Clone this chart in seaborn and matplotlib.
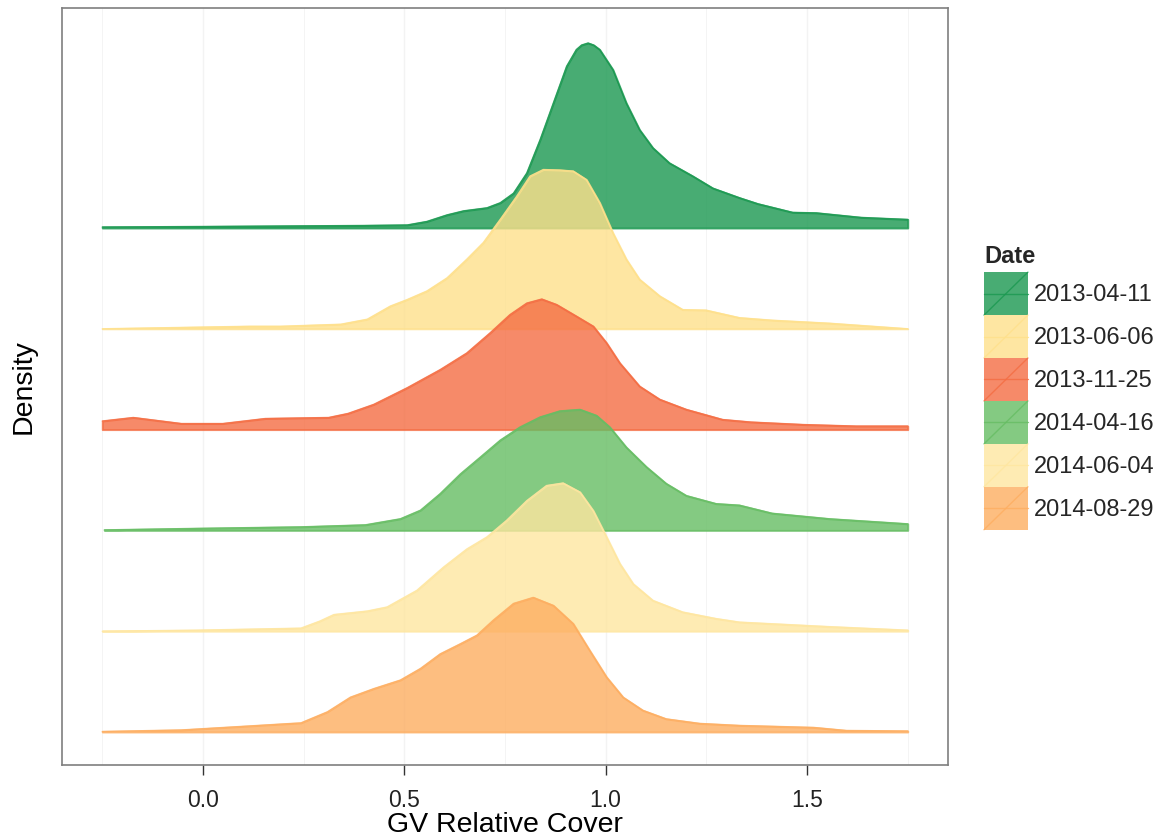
import numpy as np
import pandas as pd
import matplotlib
matplotlib.use("Agg")
import matplotlib.pyplot as plt
import seaborn as sns
from matplotlib.patches import Rectangle, Patch
from matplotlib.lines import Line2D
from matplotlib.legend_handler import HandlerBase

# density curves (x = GV relative cover, d = density)
dates = ['2013-04-11', '2013-06-06', '2013-11-25', '2014-04-16', '2014-06-04', '2014-08-29']
colors = ['#1a9850', '#fee08b', '#f46d43', '#66bd63', '#fee6a0', '#fdae61']
offsets = [10, 8, 6, 4, 2, 0]

x_0411 = [-0.25, 0.0, 0.2, 0.4, 0.507, 0.556, 0.606, 0.647, 0.705, 0.738, 0.771, 0.804, 0.837, 0.87,
          0.903, 0.927, 0.94, 0.956, 0.97, 0.985, 1.018, 1.051, 1.084, 1.117, 1.158, 1.216, 1.266,
          1.332, 1.378, 1.464, 1.523, 1.634, 1.75]
d_0411 = [0.02, 0.03, 0.04, 0.05, 0.06, 0.13, 0.26, 0.34, 0.4, 0.5, 0.69, 1.09, 1.75, 2.48,
          3.21, 3.54, 3.63, 3.67, 3.63, 3.54, 3.14, 2.48, 1.95, 1.59, 1.29, 1.03, 0.79,
          0.6, 0.48, 0.31, 0.3, 0.21, 0.17]

x_0606 = [-0.25, 0.116, 0.193, 0.342, 0.408, 0.465, 0.507, 0.556, 0.606, 0.655, 0.696, 0.738, 0.779,
          0.812, 0.845, 0.886, 0.919, 0.952, 0.985, 1.018, 1.051, 1.084, 1.134, 1.191, 1.249, 1.332,
          1.413, 1.556, 1.75]
d_0606 = [0.0, 0.05, 0.05, 0.09, 0.19, 0.45, 0.58, 0.75, 1.01, 1.38, 1.71, 2.17, 2.63,
          3.03, 3.16, 3.15, 3.13, 2.96, 2.5, 1.9, 1.38, 0.98, 0.65, 0.38, 0.37, 0.22,
          0.17, 0.11, 0.0]

x_1125 = [-0.25, -0.173, -0.054, 0.049, 0.155, 0.312, 0.36, 0.424, 0.507, 0.589, 0.655, 0.713, 0.762,
          0.804, 0.841, 0.878, 0.927, 0.969, 1.002, 1.035, 1.084, 1.134, 1.2, 1.29, 1.36, 1.491,
          1.622, 1.75]
d_1125 = [0.17, 0.24, 0.12, 0.12, 0.22, 0.24, 0.32, 0.5, 0.83, 1.19, 1.52, 1.92, 2.28,
          2.51, 2.59, 2.48, 2.25, 2.05, 1.72, 1.32, 0.86, 0.6, 0.4, 0.2, 0.15, 0.1,
          0.07, 0.07]

x_0416 = [-0.245, -0.015, 0.243, 0.403, 0.49, 0.54, 0.589, 0.639, 0.688, 0.738, 0.787, 0.837, 0.886,
          0.936, 0.977, 1.01, 1.051, 1.101, 1.15, 1.2, 1.274, 1.332, 1.413, 1.556, 1.75]
d_0416 = [0.01, 0.04, 0.07, 0.11, 0.23, 0.4, 0.73, 1.12, 1.45, 1.79, 2.05, 2.25, 2.37,
          2.4, 2.28, 2.05, 1.65, 1.26, 0.93, 0.69, 0.53, 0.5, 0.34, 0.23, 0.13]

x_0604 = [-0.25, -0.015, 0.243, 0.29, 0.325, 0.408, 0.457, 0.531, 0.597, 0.655, 0.705, 0.754, 0.804,
          0.853, 0.894, 0.936, 0.969, 1.002, 1.035, 1.068, 1.117, 1.191, 1.274, 1.332, 1.556, 1.75]
d_0604 = [0.0, 0.02, 0.06, 0.2, 0.33, 0.4, 0.48, 0.81, 1.27, 1.63, 1.87, 2.2, 2.59,
          2.89, 2.94, 2.76, 2.39, 1.87, 1.34, 0.94, 0.61, 0.38, 0.25, 0.18, 0.09, 0.02]

x_0829 = [-0.25, -0.054, 0.116, 0.22, 0.243, 0.309, 0.366, 0.424, 0.49, 0.54, 0.589, 0.639, 0.68,
          0.721, 0.771, 0.82, 0.87, 0.919, 0.96, 1.002, 1.043, 1.092, 1.15, 1.233, 1.332, 1.426,
          1.517, 1.597, 1.75]
d_0829 = [0.01, 0.04, 0.12, 0.17, 0.18, 0.4, 0.69, 0.86, 1.03, 1.26, 1.55, 1.75, 1.92,
          2.22, 2.55, 2.67, 2.51, 2.15, 1.62, 1.09, 0.69, 0.43, 0.26, 0.17, 0.13, 0.11,
          0.09, 0.03, 0.02]

xs = [x_0411, x_0606, x_1125, x_0416, x_0604, x_0829]
ds = [d_0411, d_0606, d_1125, d_0416, d_0604, d_0829]

frames = []
for date, off, x, d in zip(dates, offsets, xs, ds):
    frames.append(pd.DataFrame({'x': x, 'density': d, 'Date': date, 'offset': off}))
df = pd.concat(frames, ignore_index=True)
df['y'] = df['density'] + df['offset']

sns.set_theme(style='white')
plt.rcParams['font.family'] = ['Liberation Sans', 'DejaVu Sans']

fig = plt.figure(figsize=(11.6, 8.4), dpi=100)
ax = fig.add_axes([62 / 1160, 1 - 765 / 840, (948 - 62) / 1160, (765 - 8) / 840])

# faint grid like theme_bw
for gx in [-0.25, 0.0, 0.25, 0.5, 0.75, 1.0, 1.25, 1.5, 1.75]:
    ax.axvline(gx, color='#f3f3f3', lw=1.0 if gx in (0.0, 0.5, 1.0, 1.5) else 0.6, zorder=0)

alpha = 0.8
for i, (date, col) in enumerate(zip(dates, colors)):
    sub = df[df['Date'] == date]
    ax.fill_between(sub['x'], sub['offset'], sub['y'], facecolor=col, edgecolor=col,
                    linewidth=1.4, alpha=alpha, zorder=2 + 2 * i)
    sns.lineplot(data=sub, x='x', y='y', color=col, alpha=alpha, lw=1.0, ax=ax,
                 estimator=None, sort=False, legend=False, zorder=3 + 2 * i)

ax.set_xlim(-0.35, 1.85)
ax.set_ylim(-0.655, 14.365)
ax.set_xticks([0.0, 0.5, 1.0, 1.5])
ax.set_xticklabels(['0.0', '0.5', '1.0', '1.5'])
ax.set_yticks([])
ax.tick_params(axis='x', direction='out', length=7, width=1, color='#333333',
               labelsize=16.5, labelcolor='#222222', pad=10, bottom=True)
ax.set_xlabel('GV Relative Cover', fontsize=20.5, color='black', labelpad=0)
ax.set_ylabel('Density', fontsize=20.5, color='black', labelpad=18)
for s in ax.spines.values():
    s.set_color('#7f7f7f')
    s.set_linewidth(1.2)


class KeyHandler(HandlerBase):
    def create_artists(self, legend, orig_handle, xdescent, ydescent, width, height, fontsize, trans):
        col = orig_handle.get_facecolor()
        x0, y0 = -xdescent, -ydescent
        r = Rectangle((x0, y0), width, height, facecolor=col, edgecolor='none', transform=trans)
        d = Line2D([x0, x0 + width], [y0, y0 + height], color=col, lw=1.0, transform=trans)
        h = Line2D([x0, x0 + width], [y0 + height / 2] * 2, color=col, lw=1.0, transform=trans)
        return [r, d, h]


handles = [Patch(facecolor=matplotlib.colors.to_rgba(c, alpha)) for c in colors]
leg = fig.legend(handles, dates, handler_map={Patch: KeyHandler()}, loc='upper left',
                 bbox_to_anchor=(984 / 1160, 1 - 245 / 840), frameon=False, title='Date',
                 fontsize=17, title_fontsize=17, handlelength=1.86, handleheight=2.42,
                 labelspacing=0.0, handletextpad=0.25, borderpad=0, borderaxespad=0)
leg.get_title().set_fontweight('bold')
leg._legend_box.align = 'left'
leg._legend_box.sep = 3

fig.savefig('out.png', dpi=100)
